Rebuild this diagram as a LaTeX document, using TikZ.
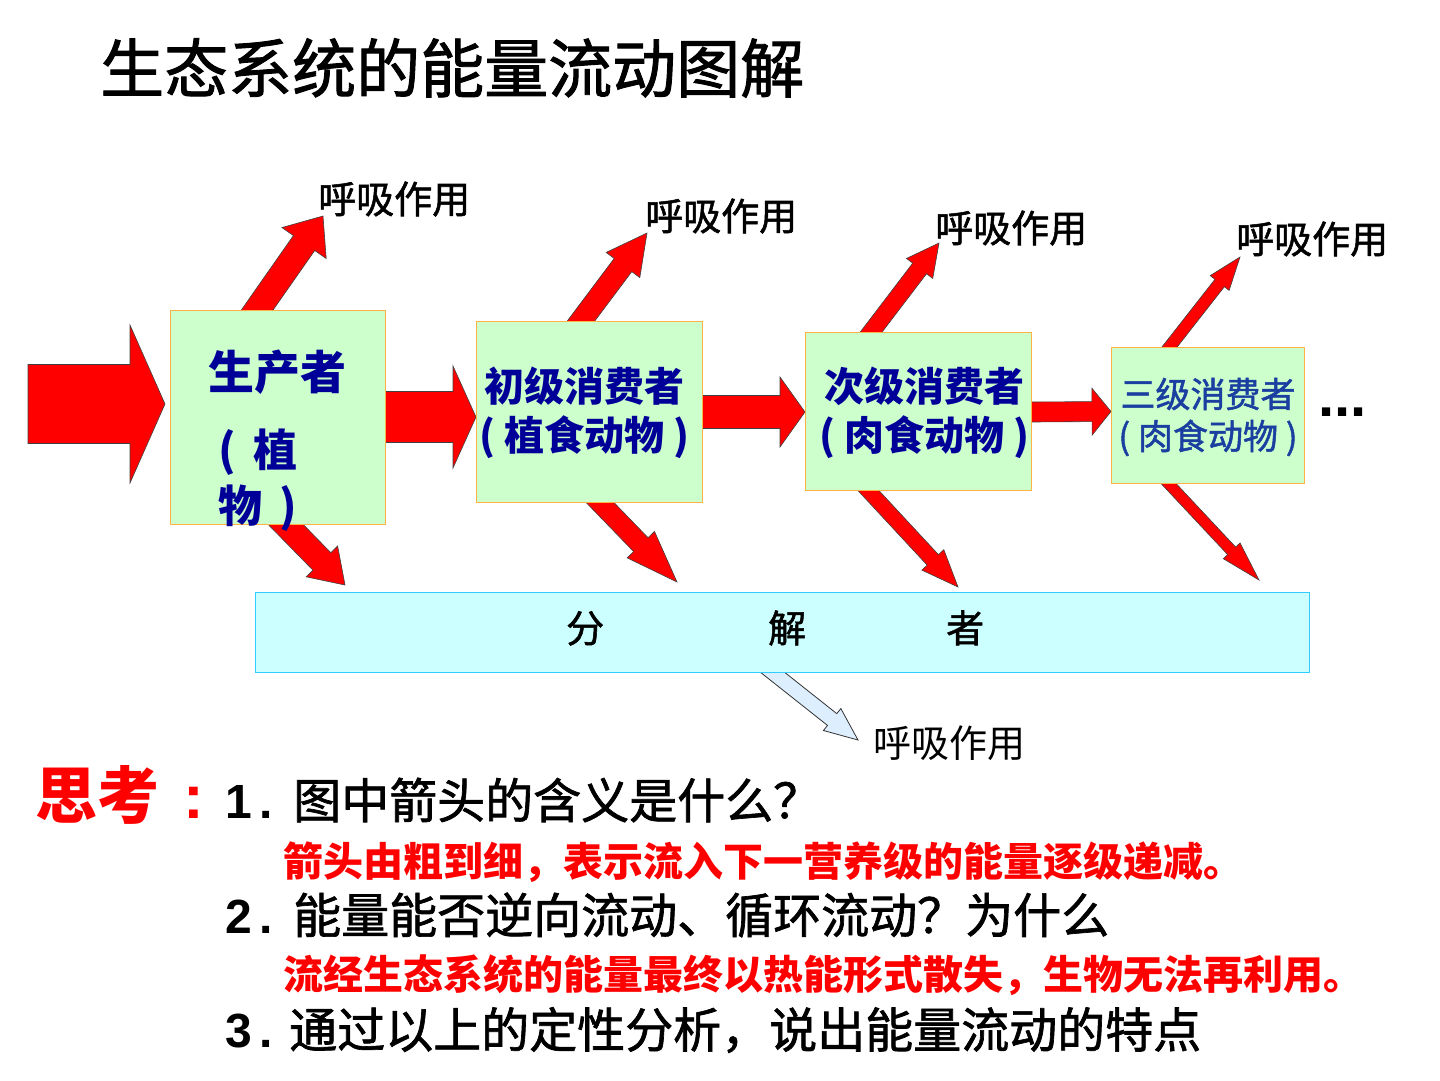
\documentclass[tikz,border=0pt]{standalone}
\usepackage{fontspec}
\setmainfont{Noto Sans CJK SC}
\newfontfamily\heiti{Noto Sans CJK SC}[FakeBold=1.4]
\newfontfamily\arialf{Liberation Sans}
\usetikzlibrary{calc}
\definecolor{boxgreen}{HTML}{CCFFCC}
\definecolor{boxedge}{HTML}{FFB347}
\definecolor{decfill}{HTML}{CCFFFF}
\definecolor{decedge}{HTML}{33CCFF}
\definecolor{navy}{HTML}{000099}
\definecolor{tblue}{HTML}{1A3FA0}
\definecolor{arrred}{HTML}{FF0000}
\definecolor{lightarr}{HTML}{DDEEFF}
\newcommand\fs[1]{\fontsize{#1pt}{#1pt}\selectfont}
% block arrow: [style] tail, tip, shaft half width, head half width, head length
\newcommand\blockarrow[6][redarrow]{%
  \coordinate (ba-c) at ($(#3)!#6!(#2)$);
  \path[#1] ($(#2)!#4!90:(#3)$) -- ($(ba-c)!#4!-90:(#2)$) -- ($(ba-c)!#5!-90:(#2)$)
    -- (#3) -- ($(ba-c)!#5!90:(#2)$) -- ($(ba-c)!#4!90:(#2)$) -- ($(#2)!#4!-90:(#3)$) -- cycle;
}
\begin{document}
\begin{tikzpicture}[x=1pt,y=-1pt,
  redarrow/.style={fill=arrred,draw=black!75,line width=0.6pt,line join=miter},
  palearrow/.style={fill=lightarr,draw=black!80,line width=0.8pt,line join=miter},
  trophic/.style={draw=boxedge,line width=1pt,fill=boxgreen,inner sep=0pt},
  lbl/.style={anchor=west,font=\heiti\fs{38},inner sep=0pt,text=black},
  q/.style={anchor=west,font=\heiti\fs{48},inner sep=0pt,text=black},
  ans/.style={anchor=west,font=\fs{40}\bfseries,inner sep=0pt,text=red}
]
\useasboundingbox (0,0) rectangle (1440,1080);
\fill[white] (0,0) rectangle (1440,1080);

% title
\node[anchor=west,font=\heiti\fs{64},inner sep=0pt] (title) at (100,68) {生态系统的能量流动图解};

% arrow end points
\coordinate (in-s) at (28,404);     \coordinate (in-t) at (165,404);
\coordinate (pp-s) at (385,417);    \coordinate (pp-t) at (476,417);
\coordinate (ps-s) at (702,412);    \coordinate (ps-t) at (805,412);
\coordinate (st-s) at (1031,412);   \coordinate (st-t) at (1111,411.5);
\coordinate (pu-s) at (246,326);    \coordinate (pu-t) at (323,216);
\coordinate (pd-s) at (271.5,510);  \coordinate (pd-t) at (345,585);
\coordinate (au-s) at (569,337);    \coordinate (au-t) at (647,233);
\coordinate (ad-s) at (586,488);    \coordinate (ad-t) at (677,582);
\coordinate (bu-s) at (859,348);    \coordinate (bu-t) at (939,243);
\coordinate (bd-s) at (854,475);    \coordinate (bd-t) at (958,587);
\coordinate (cu-s) at (1157,363);   \coordinate (cu-t) at (1240,257);
\coordinate (cd-s) at (1154,468);   \coordinate (cd-t) at (1259,580);
\coordinate (du-s) at (757,660);    \coordinate (du-t) at (858,740);

% arrows (drawn under the boxes)
\blockarrow{in-s}{in-t}{39.5pt}{79pt}{35pt}
\blockarrow{pp-s}{pp-t}{25.5pt}{51pt}{23pt}
\blockarrow{ps-s}{ps-t}{16.5pt}{35pt}{25pt}
\blockarrow{st-s}{st-t}{10pt}{23.5pt}{19pt}
\blockarrow{pu-s}{pu-t}{13pt}{27pt}{33pt}
\blockarrow{pd-s}{pd-t}{12.5pt}{22pt}{33pt}
\blockarrow{au-s}{au-t}{11pt}{21pt}{40pt}
\blockarrow{ad-s}{ad-t}{10pt}{19pt}{52pt}
\blockarrow{bu-s}{bu-t}{8.7pt}{16.5pt}{32pt}
\blockarrow{bd-s}{bd-t}{7.7pt}{15pt}{37pt}
\blockarrow{cu-s}{cu-t}{6pt}{12pt}{33pt}
\blockarrow{cd-s}{cd-t}{5.5pt}{11.5pt}{40pt}
\blockarrow[palearrow]{du-s}{du-t}{7.5pt}{14pt}{33pt}

% boxes
\node[trophic,minimum width=215pt,minimum height=214pt] (prod) at (277.5,417) {};
\node[trophic,minimum width=226pt,minimum height=181pt] (prim) at (589,411.5) {};
\node[trophic,minimum width=226pt,minimum height=158pt] (sec) at (918,411) {};
\node[trophic,minimum width=193pt,minimum height=136pt] (ter) at (1207.5,415.5) {};
\node[draw=decedge,line width=1pt,fill=decfill,minimum width=1054pt,minimum height=80pt,inner sep=0pt] (dec) at (782,632) {};

% box texts
\node[font=\fs{46}\bfseries,text=navy,inner sep=0pt] (prodname) at (277.5,372) {生产者};
\node[anchor=west,align=left,font=\fontsize{44pt}{56pt}\selectfont\bfseries,text=navy,inner sep=0pt] (prodsub) at (218,480) {(\, 植\\物\, )};
\node[align=center,font=\fontsize{40pt}{49pt}\selectfont\bfseries,text=navy,inner sep=0pt] (primtext) at (584.5,412.5) {初级消费者\\( 植食动物 )};
\node[align=center,font=\fontsize{40pt}{49pt}\selectfont\bfseries,text=navy,inner sep=0pt] (sectext) at (924.5,412.5) {次级消费者\\( 肉食动物 )};
\node[align=center,font=\heiti\fontsize{35pt}{42pt}\selectfont,text=tblue,inner sep=0pt] (tertext) at (1208,417) {三级消费者\\( 肉食动物 )};
\node[anchor=west,font=\heiti\fs{38},inner sep=0pt] (dectext) at (566,628) {分\hspace{164pt}解\hspace{140pt}者};
\node[anchor=base west,font=\arialf\bfseries\fs{58},inner sep=0pt] (more) at (1318,416) {...};

% respiration labels
\node[lbl] (r1) at (318,199) {呼吸作用};
\node[lbl] (r2) at (645,216) {呼吸作用};
\node[lbl] (r3) at (935,228) {呼吸作用};
\node[lbl] (r4) at (1236,239) {呼吸作用};
\node[anchor=west,font=\fs{38},inner sep=0pt] (r5) at (873,743) {呼吸作用};

% questions
\node[anchor=west,font=\fs{62}\bfseries,text=red,inner sep=0pt] (think) at (35,795) {思考\hspace{24pt}{\arialf\bfseries :}};
\node[q] (q1) at (225,800) {{\arialf\bfseries 1\hspace{8pt}.}\hspace{20pt}图中箭头的含义是什么？};
\node[ans] (a1) at (283,862) {箭头由粗到细，表示流入下一营养级的能量逐级递减。};
\node[q] (q2) at (225,915) {{\arialf\bfseries 2\hspace{8pt}.}\hspace{20pt}能量能否逆向流动、循环流动？为什么};
\node[ans] (a2) at (283,975) {流经生态系统的能量最终以热能形式散失，生物无法再利用。};
\node[q] (q3) at (225,1030) {{\arialf\bfseries 3\hspace{8pt}.}\hspace{16pt}通过以上的定性分析，说出能量流动的特点};
\end{tikzpicture}
\end{document}
